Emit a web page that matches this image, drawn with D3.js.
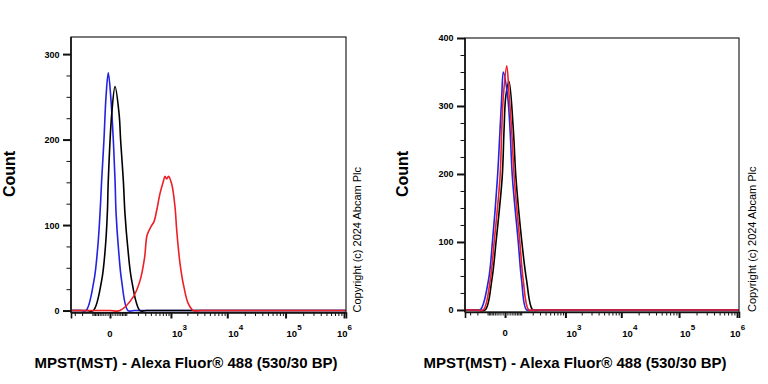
<!DOCTYPE html>
<html><head><meta charset="utf-8">
<script src="https://cdn.jsdelivr.net/npm/d3@7"></script>
<style>
body{margin:0;background:#fff}
svg{display:block}
text{font-family:"Liberation Sans",Arial,Helvetica,sans-serif;fill:#000}
</style></head>
<body><svg id="chart" width="768" height="384"></svg>
<script>
// ---------- data ----------
const xMajorTicks = [0, 1e3, 1e4, 1e5, 1e6];
const xTickLabels = ["0", "10^3", "10^4", "10^5", "10^6"];
const leftYTicks = [0, 100, 200, 300];
const rightYTicks = [0, 100, 200, 300, 400];
const xTitle = "MPST(MST) - Alexa Fluor® 488 (530/30 BP)";
const yTitle = "Count";
const copyright = "Copyright (c) 2024  Abcam Plc";

// [fluorescence, count]
const leftBlue = [[-364,0],[-220,0],[-157,0],[-88,35],[-62,74],[-48,114],[-39,152],[-27,199],[-17,250],[-7,278],[3,250],[14,199],[22,152],[27,114],[39,74],[58,35],[103,0],[160,0],[1080000,0]];
const leftBlack = [[-364,0],[-150,0],[-93,0],[-39,35],[-20,74],[-11,114],[-7,152],[7,230],[22,262],[43,230],[52,199],[69,152],[80,114],[101,74],[135,35],[226,0],[320,0],[1080000,0]];
const leftRed = [[-364,0],[0,0],[48,0],[150,16],[226,35],[290,62],[330,88],[400,98],[465,104],[528,117],[616,137],[715,151],[771,157],[832,154],[900,157],[1034,148],[1192,121],[1281,94],[1473,55],[1741,27],[2080,8],[2554,0],[3500,0],[1080000,0]];

const rightBlue = [[-390,0],[-250,0],[-168,0],[-93,44],[-65,100],[-35,195],[-22,265],[-14,314],[-7,350],[11,314],[22,265],[34,195],[69,100],[93,44],[135,0],[200,0],[1080000,0]];
const rightRed = [[-390,0],[-220,0],[-138,0],[-80,44],[-54,100],[-22,195],[-14,265],[-7,314],[7,359],[18,314],[30,265],[44,195],[80,100],[106,44],[157,0],[230,0],[1080000,0]];
const rightBlack = [[-390,0],[-200,0],[-120,0],[-69,44],[-43,100],[-12,195],[-4,265],[3,314],[17,336],[39,265],[54,195],[95,100],[135,44],[201,0],[290,0],[1080000,0]];

const colors = {blue:"#2323e0", black:"#000000", red:"#ee1f26"};

// ---------- drawing ----------
const svg = d3.select("#chart");

const xMinor = [-300,-200,-100];
for (let m=1;m<=9;m++){ xMinor.push(-10*m); xMinor.push(10*m); }
for (let d=2; d<=5; d++) for (let m=2;m<=9;m++) xMinor.push(m*Math.pow(10,d));

function panel(cfg){
  const g = svg.append("g");
  const x = d3.scaleSymlog().constant(100).domain(cfg.xDomain).range([cfg.x0, cfg.x1]);
  const y = d3.scaleLinear().domain(cfg.yDomain).range([cfg.y1, cfg.y0]);

  // curves
  const line = d3.line().x(d=>x(d[0])).y(d=>Math.min(y(d[1]), y(0))).curve(d3.curveCatmullRom.alpha(0.5));
  cfg.series.forEach(s=>{
    g.append("path").attr("d", line(s.data)).attr("fill","none")
      .attr("stroke", s.color).attr("stroke-width",1.6).attr("stroke-linejoin","round");
  });

  // frame
  g.append("rect").attr("x",cfg.x0).attr("y",cfg.y0)
    .attr("width",cfg.x1-cfg.x0).attr("height",cfg.y1-cfg.y0)
    .attr("fill","none").attr("stroke","#222").attr("stroke-width",1.2);

  // y minor ticks
  const yMinor = d3.range(0, cfg.yDomain[1]+0.1, 25).filter(v=>!cfg.yTicks.includes(v));
  const ya1 = g.append("g").attr("transform",`translate(${cfg.x0},0)`)
    .call(d3.axisLeft(y).tickValues(yMinor).tickSize(4.5).tickFormat(""));
  ya1.select(".domain").remove();
  ya1.selectAll("line").attr("stroke","#111").attr("stroke-width",1);
  const ya2 = g.append("g").attr("transform",`translate(${cfg.x0},0)`)
    .call(d3.axisLeft(y).tickValues(cfg.yTicks).tickSize(8).tickPadding(3.5).tickFormat(d3.format("d")));
  ya2.select(".domain").attr("stroke","#111").attr("stroke-width",1.6).attr("d",`M0,${cfg.y0}V${cfg.y1}`);
  ya2.selectAll("line").attr("stroke","#111").attr("stroke-width",2);
  ya2.selectAll("text").attr("font-size",9).attr("font-weight","bold").attr("dy","0.33em");

  // x ticks
  const xa1 = g.append("g").attr("transform",`translate(0,${cfg.y1})`)
    .call(d3.axisBottom(x).tickValues(xMinor).tickSize(3.5).tickFormat(""));
  xa1.select(".domain").remove();
  xa1.selectAll("line").attr("stroke","#111").attr("stroke-width",1);
  const xa2 = g.append("g").attr("transform",`translate(0,${cfg.y1})`)
    .call(d3.axisBottom(x).tickValues(xMajorTicks).tickSize(6).tickFormat(""));
  xa2.select(".domain").attr("stroke","#111").attr("stroke-width",1.6);
  xa2.selectAll("line").attr("stroke","#111").attr("stroke-width",2);

  // x labels
  xMajorTicks.forEach((v,i)=>{
    const lab = xTickLabels[i];
    const px = x(v);
    if (lab.indexOf("^")<0){
      g.append("text").attr("x",px).attr("y",cfg.y1+24).attr("text-anchor","middle")
        .attr("font-size",9.5).attr("font-weight","bold").text(lab);
    } else {
      const [b,e] = lab.split("^");
      const sx = (i===xMajorTicks.length-1) ? px-7 : px+1;
      const t = g.append("text").attr("x",sx).attr("y",cfg.y1+24.5)
        .attr("font-size",9.5).attr("font-weight","bold");
      t.append("tspan").text(b);
      t.append("tspan").attr("font-size",8).attr("dy",-7).text(e);
    }
  });

  // titles
  g.append("text").attr("transform",`translate(${cfg.countX},174) rotate(-90)`)
    .attr("text-anchor","middle").attr("font-size",16).attr("font-weight","bold").text(yTitle);
  g.append("text").attr("x",cfg.titleX).attr("y",368).attr("text-anchor","middle")
    .attr("font-size",15).attr("font-weight","bold").text(xTitle);
  g.append("text").attr("transform",`translate(${cfg.copyX},${cfg.y1}) rotate(-90)`)
    .attr("text-anchor","start").attr("font-size",11).text(copyright);
}

panel({x0:71, x1:346, y0:37, y1:312.5, xDomain:[-364,1080000], yDomain:[-2.3,320], yTicks:leftYTicks,
  countX:15, titleX:186, copyX:361,
  series:[{data:leftBlue,color:colors.blue},{data:leftBlack,color:colors.black},{data:leftRed,color:colors.red}]});
panel({x0:465, x1:739, y0:38, y1:312, xDomain:[-390,1080000], yDomain:[-3,400], yTicks:rightYTicks,
  countX:408, titleX:575, copyX:755.5,
  series:[{data:rightBlack,color:colors.black},{data:rightBlue,color:colors.blue},{data:rightRed,color:colors.red}]});
</script>
</body></html>
